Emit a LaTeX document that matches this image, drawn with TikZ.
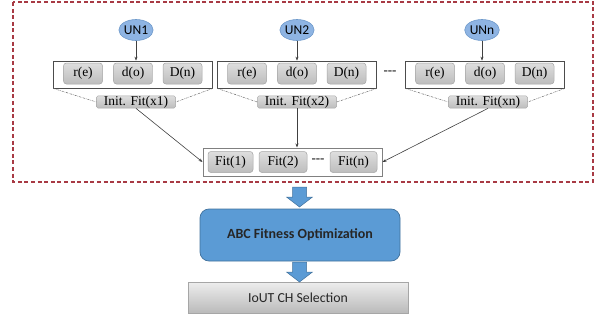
\documentclass[tikz,border=0pt]{standalone}
\usepackage{fontspec}
\setmainfont{Liberation Serif}
\newfontfamily\calib{Carlito}
\usetikzlibrary{arrows.meta,positioning,shapes.geometric}
\definecolor{frameRed}{HTML}{A83A44}
\definecolor{unFill}{HTML}{8EB4E3}
\definecolor{unLine}{HTML}{6F9ACB}
\definecolor{abcFill}{HTML}{5B9BD5}
\definecolor{abcLine}{HTML}{41719C}
\definecolor{boxTop}{HTML}{DEDEDE}
\definecolor{boxBot}{HTML}{BDBDBD}
\definecolor{boxLine}{HTML}{A6A6A6}
\tikzset{
  unnode/.style={ellipse, draw=unLine, fill=unFill, line width=0.6pt,
    minimum width=32pt, minimum height=21pt, inner sep=0pt,
    font=\calib\fontsize{13.5}{13.5}\selectfont},
  param/.style={draw=boxLine, top color=boxTop, bottom color=boxBot, rounded corners=3pt,
    minimum width=39pt, minimum height=21pt, inner sep=0pt, line width=0.5pt,
    font=\fontsize{13.5}{13.5}\selectfont},
  group/.style={draw=black!70, fill=white, line width=0.7pt,
    minimum width=159pt, minimum height=27pt, inner sep=0pt},
  initfit/.style={draw=boxLine, top color=boxTop, bottom color=boxBot, rounded corners=1.5pt,
    minimum width=79pt, minimum height=12pt, inner sep=0pt, line width=0.5pt,
    font=\fontsize{13.5}{13.5}\selectfont},
  fitbox/.style={param, minimum width=46pt},
  link/.style={draw=black!75, line width=0.6pt, -{Stealth[length=4pt,width=3pt]}},
  guide/.style={draw=black!60, line width=0.5pt, dash pattern=on 2pt off 1pt on 0.5pt off 1pt},
  blockarrow/.style={fill=abcFill, draw=abcLine, line width=0.5pt},
}
\begin{document}
\begin{tikzpicture}[x=1pt,y=-1pt]
\useasboundingbox (0,0) rectangle (595,324);

% dashed frame around the fitness stage
\draw[frameRed, line width=1.1pt, dash pattern=on 4pt off 2.6pt] (13,2) rectangle (593,182);

% user nodes
\node[unnode] (un1) at (136,30) {UN1};
\node[unnode] (un2) at (297,30) {UN2};
\node[unnode] (unn) at (482,30) {UNn};

% parameter groups
\foreach \g/\cx in {1/133, 2/297, n/485} {
  \node[group] (grp\g) at (\cx,74.5) {};
  \node[param] (re\g) at (\cx-50,73.5) {r(e)};
  \node[param] (do\g) at (\cx,73.5) {d(o)};
  \node[param] (Dn\g) at (\cx+49.5,73.5) {D(n)};
}
\node[font=\fontsize{13}{13}\selectfont] (gap) at (390,73) {-{}-{}-};

% initial fitness labels
\node[initfit] (init1) at (136,102) {Init. Fit(x1)};
\node[initfit] (init2) at (297,102) {Init. Fit(x2)};
\node[initfit] (initn) at (488,102) {Init. Fit(xn)};

\foreach \g in {1,2,n} {
  \draw[guide] (grp\g.south west) -- (init\g.west);
  \draw[guide] (grp\g.south east) -- (init\g.east);
}

% user node to group
\draw[link] (un1) -- (un1.south |- grp1.north);
\draw[link] (un2) -- (un2.south |- grp2.north);
\draw[link] (unn) -- (unn.south |- grpn.north);

% fitness collection box
\node[draw=black!50, fill=white, line width=1pt, minimum width=179pt, minimum height=28pt,
  inner sep=0pt] (fit) at (292.5,162) {};
\node[fitbox, minimum width=45pt] (f1) at (230.5,162) {Fit(1)};
\node[fitbox, minimum width=48pt] (f2) at (283,162) {Fit(2)};
\node[font=\fontsize{13}{13}\selectfont] (fgap) at (318,161) {-{}-{}-};
\node[fitbox, minimum width=47pt] (fn) at (353.5,162) {Fit(n)};

\draw[link] (init1.south) -- (fit.west);
\draw[link] (init2.south) -- (fit.north -| init2.south);
\draw[link] (initn.south) -- (fit.east);

% optimisation and selection
\node[draw=abcLine, fill=abcFill, rounded corners=9pt, line width=0.7pt,
  minimum width=200pt, minimum height=52pt, inner sep=0pt,
  font=\calib\bfseries\fontsize{14}{14}\selectfont, text=black!85] (abc) at (300,235) {ABC Fitness Optimization};
\node[draw=black!35, top color=black!7, bottom color=black!27, line width=0.6pt,
  minimum width=220pt, minimum height=31pt, inner sep=0pt,
  font=\calib\fontsize{13.8}{13.8}\selectfont, text=black!85] (sel) at (298,297.5) {IoUT CH Selection};

% block arrows
\coordinate (a1) at (299.5,187);
\coordinate (a2) at (299.5,262);
\foreach \c/\len in {a1/20, a2/20} {
  \draw[blockarrow] ([xshift=-7pt]\c) -- ([xshift=7pt]\c) -- ([xshift=7pt,yshift=-\len*0.5pt]\c)
    -- ([xshift=13pt,yshift=-\len*0.5pt]\c) -- ([yshift=-\len*1pt]\c)
    -- ([xshift=-13pt,yshift=-\len*0.5pt]\c) -- ([xshift=-7pt,yshift=-\len*0.5pt]\c) -- cycle;
}
\end{tikzpicture}
\end{document}
